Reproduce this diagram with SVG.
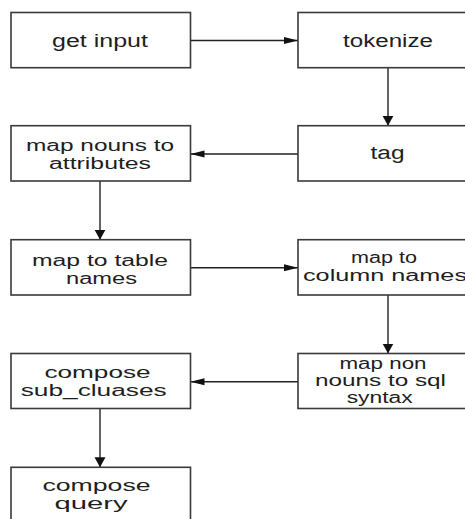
<svg xmlns="http://www.w3.org/2000/svg" width="465" height="519" viewBox="0 0 465 519">
<style>
.box{fill:#fff;stroke:#3a3a3a;stroke-width:1.6}
.lbl{font-family:"Liberation Sans",Arial,Helvetica,sans-serif;font-size:16px;fill:#1e1e1e;text-anchor:middle}
.big{font-size:18px}
.ln{stroke:#222;stroke-width:1.4;fill:none}
</style>
<defs>
<marker id="ah" markerUnits="userSpaceOnUse" markerWidth="16" markerHeight="10" refX="14" refY="4" orient="auto">
<path d="M0,0.5 L14,4 L0,7.5 Z" fill="#111"/>
</marker>
<marker id="av" markerUnits="userSpaceOnUse" markerWidth="12" markerHeight="12" refX="10" refY="5.5" orient="auto">
<path d="M0,0 L10,5.5 L0,11 Z" fill="#111"/>
</marker>
</defs>
<rect width="465" height="519" fill="#fff"/>
<g id="connectors">
<line class="ln" x1="190.5" y1="40.5" x2="298" y2="40.5" marker-end="url(#ah)"/>
<line class="ln" x1="388" y1="67.7" x2="388" y2="125.7" marker-end="url(#av)"/>
<line class="ln" x1="298" y1="154" x2="190.5" y2="154" marker-end="url(#ah)"/>
<line class="ln" x1="100" y1="181" x2="100" y2="239.7" marker-end="url(#av)"/>
<line class="ln" x1="190.5" y1="267.7" x2="298" y2="267.7" marker-end="url(#ah)"/>
<line class="ln" x1="388" y1="295" x2="388" y2="353.5" marker-end="url(#av)"/>
<line class="ln" x1="298" y1="381.7" x2="190.5" y2="381.7" marker-end="url(#ah)"/>
<line class="ln" x1="100" y1="408.5" x2="100" y2="467.3" marker-end="url(#av)"/>
</g>
<g id="get_input">
<rect class="box" x="11" y="12.5" width="179.5" height="55.2"/>
<text class="lbl big" x="100" y="47" textLength="96" lengthAdjust="spacingAndGlyphs">get input</text>
</g>
<g id="tokenize">
<rect class="box" x="298" y="12.5" width="180" height="55.2"/>
<text class="lbl big" x="388" y="47" textLength="90" lengthAdjust="spacingAndGlyphs">tokenize</text>
</g>
<g id="tag">
<rect class="box" x="298" y="125.7" width="180" height="55.3"/>
<text class="lbl big" x="387.5" y="159" textLength="34" lengthAdjust="spacingAndGlyphs">tag</text>
</g>
<g id="map_nouns">
<rect class="box" x="11" y="125.7" width="179.5" height="55.3"/>
<text class="lbl" x="100" y="151" textLength="148" lengthAdjust="spacingAndGlyphs">map nouns to</text>
<text class="lbl" x="100" y="169" textLength="102" lengthAdjust="spacingAndGlyphs">attributes</text>
</g>
<g id="map_table">
<rect class="box" x="11" y="239.7" width="179.5" height="55.3"/>
<text class="lbl" x="100" y="265.5" textLength="136" lengthAdjust="spacingAndGlyphs">map to table</text>
<text class="lbl" x="101.5" y="283.5" textLength="71" lengthAdjust="spacingAndGlyphs">names</text>
</g>
<g id="map_column">
<rect class="box" x="298" y="239.7" width="180" height="55.3"/>
<text class="lbl" x="384" y="263" textLength="66" lengthAdjust="spacingAndGlyphs">map to</text>
<text class="lbl" x="385" y="281" textLength="164" lengthAdjust="spacingAndGlyphs">column names</text>
</g>
<g id="map_non_nouns">
<rect class="box" x="298" y="353.5" width="180" height="55"/>
<text class="lbl" x="383" y="368.5" textLength="87" lengthAdjust="spacingAndGlyphs">map non</text>
<text class="lbl" x="380.5" y="386" textLength="131" lengthAdjust="spacingAndGlyphs">nouns to sql</text>
<text class="lbl" x="379.7" y="403" textLength="66" lengthAdjust="spacingAndGlyphs">syntax</text>
</g>
<g id="compose_sub">
<rect class="box" x="11" y="353.5" width="179.5" height="55"/>
<text class="lbl" x="97.5" y="378" textLength="106" lengthAdjust="spacingAndGlyphs">compose</text>
<text class="lbl" x="93.7" y="396" textLength="146" lengthAdjust="spacingAndGlyphs">sub_cluases</text>
</g>
<g id="compose_query">
<rect class="box" x="11" y="467.3" width="179.5" height="60"/>
<text class="lbl" x="96.5" y="490.5" textLength="108" lengthAdjust="spacingAndGlyphs">compose</text>
<text class="lbl" x="91" y="508.5" textLength="73" lengthAdjust="spacingAndGlyphs">query</text>
</g>
</svg>
